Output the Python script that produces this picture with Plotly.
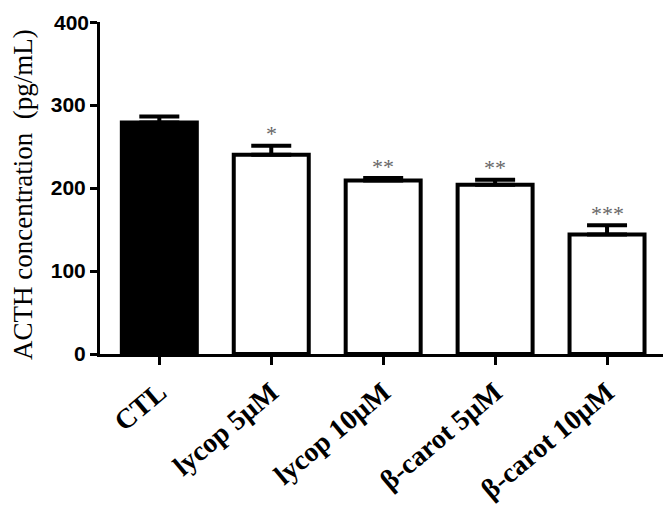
import plotly.graph_objects as go

categories = ["CTL", "lycop 5\u03bcM", "lycop 10\u03bcM", "\u03b2-carot 5\u03bcM", "\u03b2-carot 10\u03bcM"]
values = [279, 240, 209, 204, 144]
errors = [7, 11, 3, 6, 11]
stars = ["", "*", "**", "**", "***"]
fills = ["black", "white", "white", "white", "white"]
y_ticks = [0, 100, 200, 300, 400]
y_title = "ACTH concentration  (pg/mL)"

tick_font = dict(family="Liberation Sans", size=21, color="black", weight="bold")

fig = go.Figure()
fig.add_trace(go.Bar(
    x=list(range(len(categories))), y=values,
    width=0.67,
    marker=dict(color=fills, line=dict(color="black", width=4)),
    error_y=dict(type="data", symmetric=False, array=errors,
                 arrayminus=[0] * len(errors),
                 color="black", thickness=4, width=20),
    showlegend=False,
))

for i, (v, e, s) in enumerate(zip(values, errors, stars)):
    if s:
        fig.add_annotation(x=i, y=v + e, text=s, showarrow=False,
                           yshift=12, font=dict(family="Liberation Serif", size=22, color="#666666"))

fig.add_annotation(xref="paper", yref="paper", x=-0.138, y=0.48, text=y_title,
                   textangle=-90, showarrow=False, xanchor="center", yanchor="middle",
                   font=dict(family="Liberation Serif", size=27, color="black"))

# top tick label drawn as an annotation so it is not hidden at the figure's top edge
fig.add_annotation(xref="paper", yref="y", x=0, y=y_ticks[-1], text=str(y_ticks[-1]),
                   showarrow=False, xanchor="right", yanchor="middle", xshift=-9,
                   font=tick_font)

fig.update_layout(
    width=664, height=511,
    margin=dict(l=92, r=9, t=14, b=165),
    plot_bgcolor="white", paper_bgcolor="white",
)
fig.update_xaxes(
    tickmode="array", tickvals=list(range(len(categories))), ticktext=categories,
    range=[-0.53, 4.5], tickangle=-40,
    showline=True, linecolor="black", linewidth=3,
    ticks="outside", ticklen=8, tickwidth=2.5, tickcolor="black",
    tickfont=dict(family="Liberation Serif", size=28, color="black", weight="bold"),
    showgrid=False, zeroline=False, automargin=False,
)
fig.update_yaxes(
    range=[0, 400], tickmode="array", tickvals=y_ticks,
    ticktext=[str(t) for t in y_ticks[:-1]] + [""],
    showline=True, linecolor="black", linewidth=3,
    ticks="outside", ticklen=7, tickwidth=2.5, tickcolor="black",
    tickfont=tick_font,
    showgrid=False, zeroline=False, automargin=False,
)

fig.write_html("out.html")
